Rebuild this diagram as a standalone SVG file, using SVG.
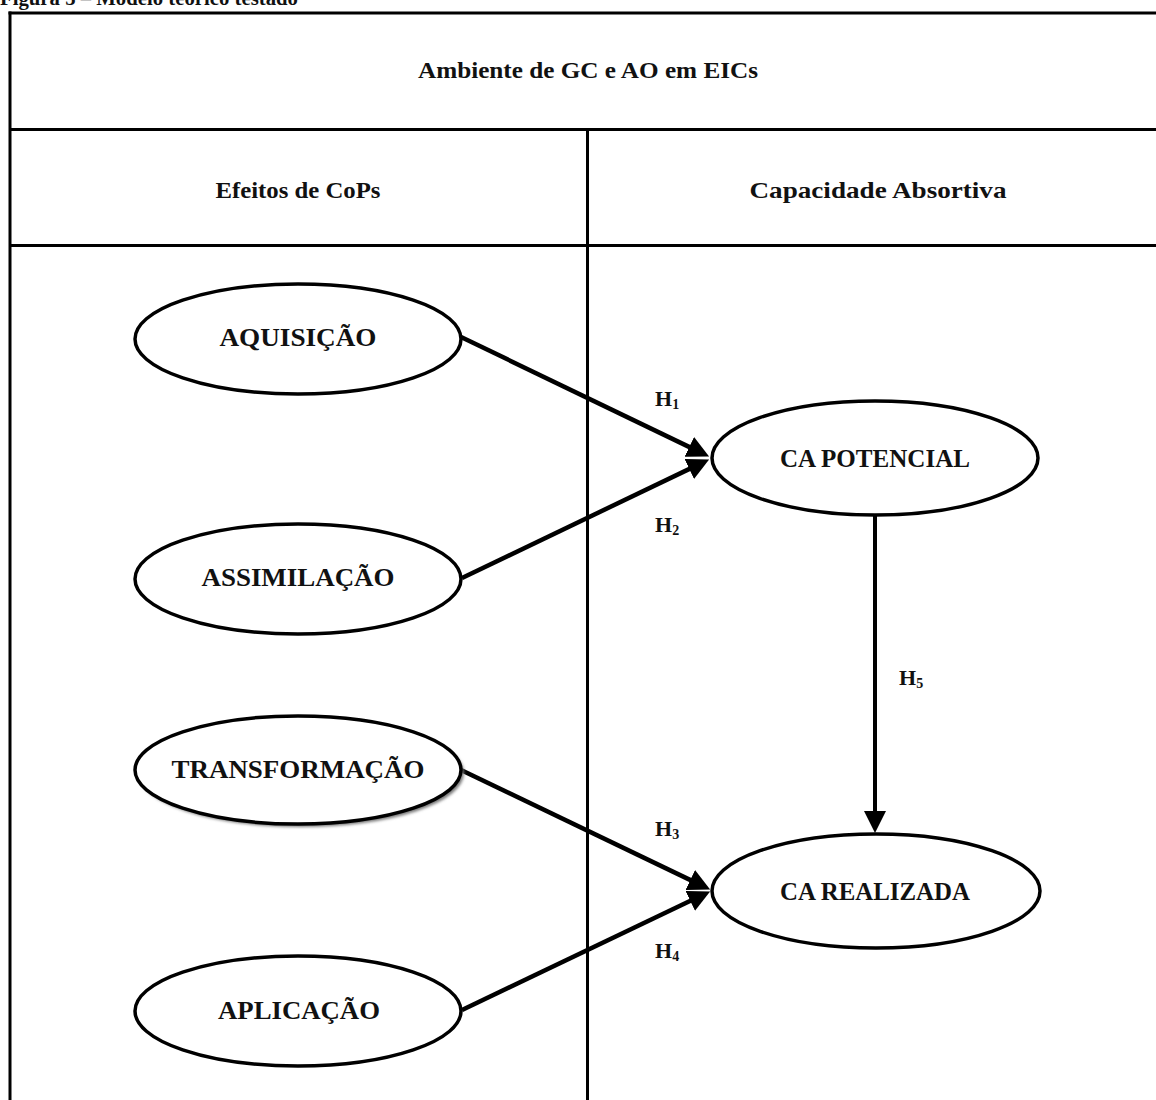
<svg xmlns="http://www.w3.org/2000/svg" width="1156" height="1100" viewBox="0 0 1156 1100">
  <style>
    .frame { stroke: #000; stroke-width: 3; fill: none; }
    .node { fill: #fff; stroke: #000; stroke-width: 3.5; }
    .edge { stroke: #000; stroke-width: 4.5; fill: none; }
    text { font-family: "Liberation Serif", "Times New Roman", serif; font-weight: bold; fill: #111; }
    .cap { font-size: 20px; }
    .head { font-size: 24px; text-anchor: middle; }
    .lbl { font-size: 25px; text-anchor: middle; }
    .hyp { font-size: 22px; }
    .sub { font-size: 14px; }
  </style>
  <defs>
    <marker id="arrow" viewBox="0 0 22 22" markerWidth="22" markerHeight="22" refX="13" refY="11" orient="auto" markerUnits="userSpaceOnUse">
      <path d="M0,0 L22,11 L0,22 z" fill="#000"/>
    </marker>
    <filter id="shadow" x="-10%" y="-20%" width="130%" height="150%">
      <feGaussianBlur stdDeviation="1.5"/>
    </filter>
  </defs>

  <rect width="1156" height="1100" fill="#fff"/>

  <!-- caption, partly above the page edge -->
  <text class="cap" x="0" y="5" textLength="298" lengthAdjust="spacingAndGlyphs">Figura 5 – Modelo teórico testado</text>

  <!-- table frame -->
  <g id="frame">
    <line class="frame" x1="8.5" y1="13" x2="1160" y2="13"/>
    <line class="frame" x1="10" y1="11.5" x2="10" y2="1102"/>
    <line class="frame" x1="10" y1="129.5" x2="1160" y2="129.5"/>
    <line class="frame" x1="10" y1="245.5" x2="1160" y2="245.5"/>
    <line class="frame" x1="587.5" y1="129.5" x2="587.5" y2="1102"/>
    <text class="head" x="588" y="78" textLength="340" lengthAdjust="spacingAndGlyphs">Ambiente de GC e AO em EICs</text>
    <text class="head" x="298" y="198" textLength="165" lengthAdjust="spacingAndGlyphs">Efeitos de CoPs</text>
    <text class="head" x="878" y="198" textLength="257" lengthAdjust="spacingAndGlyphs">Capacidade Absortiva</text>
  </g>

  <!-- connectors -->
  <g id="connectors">
    <line class="edge" x1="461" y1="337" x2="701" y2="452.6" marker-end="url(#arrow)"/>
    <line class="edge" x1="462" y1="578" x2="701" y2="463.4" marker-end="url(#arrow)"/>
    <line class="edge" x1="461" y1="770" x2="702" y2="885.6" marker-end="url(#arrow)"/>
    <line class="edge" x1="462" y1="1010" x2="702" y2="895.3" marker-end="url(#arrow)"/>
    <line class="edge" x1="875" y1="516" x2="875" y2="824" marker-end="url(#arrow)" style="stroke-width:4"/>
    <text class="hyp" x="655" y="406">H<tspan class="sub" dy="3">1</tspan></text>
    <text class="hyp" x="655" y="532">H<tspan class="sub" dy="3">2</tspan></text>
    <text class="hyp" x="655" y="836">H<tspan class="sub" dy="3">3</tspan></text>
    <text class="hyp" x="655" y="958">H<tspan class="sub" dy="3">4</tspan></text>
    <text class="hyp" x="899" y="685">H<tspan class="sub" dy="3">5</tspan></text>
  </g>

  <!-- constructs -->
  <g id="aquisicao">
    <ellipse class="node" cx="298" cy="339" rx="163" ry="55"/>
    <text class="lbl" x="298" y="346" textLength="157" lengthAdjust="spacingAndGlyphs">AQUISIÇÃO</text>
  </g>
  <g id="assimilacao">
    <ellipse class="node" cx="298" cy="579" rx="163" ry="55"/>
    <text class="lbl" x="298" y="586" textLength="193" lengthAdjust="spacingAndGlyphs">ASSIMILAÇÃO</text>
  </g>
  <g id="transformacao">
    <ellipse cx="301" cy="773" rx="163" ry="54" fill="#777" filter="url(#shadow)"/>
    <ellipse class="node" cx="298" cy="770" rx="163" ry="54"/>
    <text class="lbl" x="298" y="778" textLength="253" lengthAdjust="spacingAndGlyphs">TRANSFORMAÇÃO</text>
  </g>
  <g id="aplicacao">
    <ellipse class="node" cx="298" cy="1011" rx="163" ry="55"/>
    <text class="lbl" x="299" y="1019" textLength="162" lengthAdjust="spacingAndGlyphs">APLICAÇÃO</text>
  </g>
  <g id="ca-potencial">
    <ellipse class="node" cx="875" cy="458" rx="163" ry="57"/>
    <text class="lbl" x="875" y="467" textLength="190" lengthAdjust="spacingAndGlyphs">CA POTENCIAL</text>
  </g>
  <g id="ca-realizada">
    <ellipse class="node" cx="876" cy="891" rx="164" ry="57"/>
    <text class="lbl" x="875" y="900" textLength="190" lengthAdjust="spacingAndGlyphs">CA REALIZADA</text>
  </g>
</svg>
